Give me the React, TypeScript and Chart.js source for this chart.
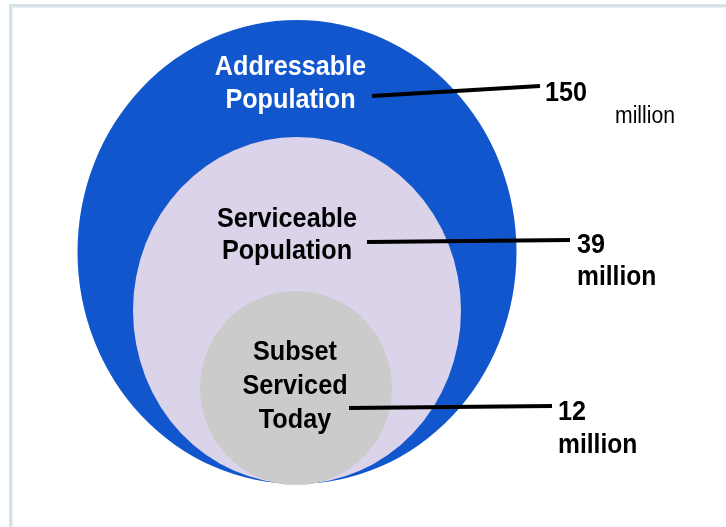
import React, { useEffect, useRef } from 'react';
import { Chart, registerables } from 'chart.js';

Chart.register(...registerables);

// ---- data ----
const segmentNames: string[][] = [
  ['Addressable', 'Population'],
  ['Serviceable', 'Population'],
  ['Subset', 'Serviced', 'Today'],
];
const valuesMillions = [150, 39, 12];
const valueUnit = ['million', 'million', 'million'];

// ellipse geometry (chart units, 1 unit = 10px on both axes)
const centerX = [0, 0, -0.1];
const centerY = [0, -5.85, -13.6];
const radiusX = [21.95, 16.4, 9.6];
const radiusY = [23.2, 17.35, 9.7];

// ---- layout / style (chart units) ----
const nameAnchorX = [-0.65, -1.0, -0.2];
const nameFirstBaseline = [17.7, 2.5, -10.8];
const nameLineStep = [3.3, 3.2, 3.4];
const nameColors = ['#ffffff', '#000000', '#000000'];
const fillColors = ['#1156cc', '#dad3ea', '#cbcbcb'];

const leaderStart = [
  [7.5, 15.6],
  [7.0, 1.0],
  [5.2, -15.6],
];
const leaderEnd = [
  [24.3, 16.6],
  [27.3, 1.2],
  [25.5, -15.4],
];
const valueAnchor = [
  [24.8, 15.1],
  [28.0, -0.1],
  [26.1, -16.8],
];
const unitAnchor = [
  [31.8, 12.9],
  [28.0, -3.3],
  [26.1, -20.1],
];
const unitBold = [false, true, true];

const FAMILY = '"Liberation Sans", Arial, Helvetica, sans-serif';
const SX = 0.9;

function drawText(
  ctx: CanvasRenderingContext2D,
  text: string,
  px: number,
  py: number,
  font: string,
  align: CanvasTextAlign,
  color: string,
  sx: number
) {
  ctx.save();
  ctx.translate(px, py);
  ctx.scale(sx, 1);
  ctx.font = font;
  ctx.textAlign = align;
  ctx.textBaseline = 'alphabetic';
  ctx.fillStyle = color;
  ctx.fillText(text, 0, 0);
  ctx.restore();
}

const vennPlugin = {
  id: 'vennPlugin',
  beforeDatasetsDraw(chart: any) {
    const ctx: CanvasRenderingContext2D = chart.ctx;
    const xs = chart.scales.x;
    const ys = chart.scales.y;
    const X = (v: number) => xs.getPixelForValue(v);
    const Y = (v: number) => ys.getPixelForValue(v);

    // ellipses
    for (let i = 0; i < centerX.length; i++) {
      const cx = X(centerX[i]);
      const cy = Y(centerY[i]);
      const rx = Math.abs(X(centerX[i] + radiusX[i]) - cx);
      const ry = Math.abs(Y(centerY[i] + radiusY[i]) - cy);
      ctx.save();
      ctx.beginPath();
      ctx.ellipse(cx, cy, rx, ry, 0, 0, Math.PI * 2);
      ctx.fillStyle = fillColors[i];
      ctx.fill();
      ctx.restore();
    }

    // leader lines
    for (let i = 0; i < leaderStart.length; i++) {
      ctx.save();
      ctx.beginPath();
      ctx.moveTo(X(leaderStart[i][0]), Y(leaderStart[i][1]));
      ctx.lineTo(X(leaderEnd[i][0]), Y(leaderEnd[i][1]));
      ctx.strokeStyle = '#000000';
      ctx.lineWidth = 4;
      ctx.lineCap = 'butt';
      ctx.stroke();
      ctx.restore();
    }

    // segment names
    for (let i = 0; i < segmentNames.length; i++) {
      segmentNames[i].forEach((line, j) => {
        drawText(
          ctx,
          line,
          X(nameAnchorX[i]),
          Y(nameFirstBaseline[i] - j * nameLineStep[i]),
          `bold 28px ${FAMILY}`,
          'center',
          nameColors[i],
          SX
        );
      });
    }

    // values
    for (let i = 0; i < valuesMillions.length; i++) {
      drawText(
        ctx,
        String(valuesMillions[i]),
        X(valueAnchor[i][0]),
        Y(valueAnchor[i][1]),
        `bold 28px ${FAMILY}`,
        'left',
        '#000000',
        SX
      );
      drawText(
        ctx,
        valueUnit[i],
        X(unitAnchor[i][0]),
        Y(unitAnchor[i][1]),
        unitBold[i] ? `bold 28px ${FAMILY}` : `23px ${FAMILY}`,
        'left',
        '#000000',
        unitBold[i] ? 0.88 : 0.92
      );
    }
  },
};

export default function App() {
  const canvasRef = useRef<HTMLCanvasElement | null>(null);

  useEffect(() => {
    const canvas = canvasRef.current;
    if (!canvas) return;
    const chart = new Chart(canvas, {
      type: 'scatter',
      data: {
        datasets: [
          {
            label: 'segments',
            data: centerX.map((cx, i) => ({ x: cx, y: centerY[i] })),
            pointRadius: 0,
            pointHoverRadius: 0,
          },
        ],
      },
      options: {
        animation: false,
        responsive: false,
        devicePixelRatio: 1,
        layout: { padding: 0 },
        events: [],
        scales: {
          x: { type: 'linear', min: -29.7, max: 42.9, display: false },
          y: { type: 'linear', min: -27.5, max: 25.2, display: false },
        },
        plugins: {
          legend: { display: false },
          tooltip: { enabled: false },
        },
      },
      plugins: [vennPlugin],
    } as any);
    return () => chart.destroy();
  }, []);

  return (
    <div
      style={{
        position: 'fixed',
        left: 0,
        top: 0,
        width: 726,
        height: 527,
        overflow: 'hidden',
        background: '#ffffff',
      }}
    >
      <div
        style={{
          position: 'absolute',
          left: 9,
          top: 4,
          width: 800,
          height: 600,
          borderLeft: '3px solid #d5e2ea',
          borderTop: '3px solid #d5e2ea',
          boxShadow: 'inset 1px 1px 1px #e8eff3',
        }}
      />
      <canvas
        ref={canvasRef}
        width={726}
        height={527}
        style={{ position: 'absolute', left: 0, top: 0, width: 726, height: 527 }}
      />
    </div>
  );
}
